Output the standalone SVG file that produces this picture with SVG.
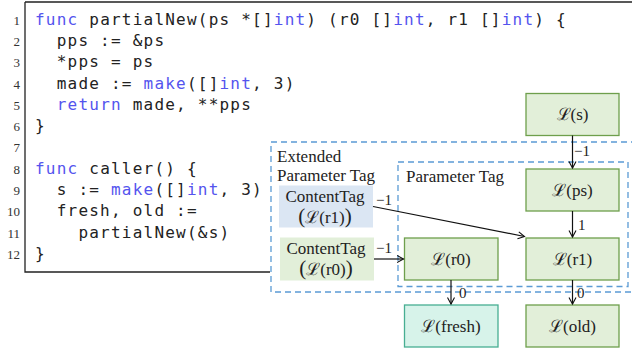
<svg xmlns="http://www.w3.org/2000/svg" width="632" height="353" viewBox="0 0 632 353">
<defs>
<style>
.code{font-family:"DejaVu Sans Mono","Liberation Mono",monospace;font-size:16px;letter-spacing:1.22px;fill:#222;white-space:pre}
.kw{fill:#5454ee}
.ln{font-family:"Liberation Serif","DejaVu Serif",serif;font-size:13px;fill:#333;text-anchor:end}
.lbl{font-family:"Liberation Serif","DejaVu Serif",serif;font-size:17px;fill:#222}
.nl{font-family:"Liberation Serif","DejaVu Serif",serif;font-size:17px;fill:#222;text-anchor:middle}
.el{font-family:"Liberation Serif","DejaVu Serif",serif;font-size:15px;fill:#222}
.g{fill:#e2efd9;stroke:#6e9f4c;stroke-width:1.3}
.t{fill:#d7f3ea;stroke:#47ae92;stroke-width:1.3}
.dash{fill:none;stroke:#5b9bd5;stroke-width:1.3;stroke-dasharray:6 4}
.edge{stroke:#111;stroke-width:1.2;fill:none}
</style>
<marker id="arr" markerUnits="userSpaceOnUse" markerWidth="10" markerHeight="10" refX="7" refY="4" orient="auto">
<path d="M0.5,0.5 L7,4 L0.5,7.5" fill="none" stroke="#111" stroke-width="1.1"/>
</marker>
</defs>
<rect width="632" height="353" fill="#fff"/>
<g id="code">
<path d="M25,2 H632 M25,2 V272 H270" fill="none" stroke="#222" stroke-width="1.3"/>
<text class="ln" x="20" y="24.6">1</text>
<text class="ln" x="20" y="45.9">2</text>
<text class="ln" x="20" y="67.2">3</text>
<text class="ln" x="20" y="88.5">4</text>
<text class="ln" x="20" y="109.8">5</text>
<text class="ln" x="20" y="131.1">6</text>
<text class="ln" x="20" y="152.4">7</text>
<text class="ln" x="20" y="173.7">8</text>
<text class="ln" x="20" y="195">9</text>
<text class="ln" x="20" y="216.3">10</text>
<text class="ln" x="20" y="237.6">11</text>
<text class="ln" x="20" y="258.9">12</text>
<text class="code" x="35" y="24.6"><tspan class="kw">func</tspan> partialNew(ps *[]<tspan class="kw">int</tspan>) (r0 []<tspan class="kw">int</tspan>, r1 []<tspan class="kw">int</tspan>) {</text>
<text class="code" x="35" y="45.9">  pps := &amp;ps</text>
<text class="code" x="35" y="67.2">  *pps = ps</text>
<text class="code" x="35" y="88.5">  made := <tspan class="kw">make</tspan>([]<tspan class="kw">int</tspan>, 3)</text>
<text class="code" x="35" y="109.8">  <tspan class="kw">return</tspan> made, **pps</text>
<text class="code" x="35" y="131.1">}</text>
<text class="code" x="35" y="173.7"><tspan class="kw">func</tspan> caller() {</text>
<text class="code" x="35" y="195">  s := <tspan class="kw">make</tspan>([]<tspan class="kw">int</tspan>, 3)</text>
<text class="code" x="35" y="216.3">  fresh, old :=</text>
<text class="code" x="35" y="237.6">    partialNew(&amp;s)</text>
<text class="code" x="35" y="258.9">}</text>
</g>
<g id="ext-param-tag">
<rect class="dash" x="271" y="142" width="380" height="150"/>
<text class="lbl" x="277" y="162">Extended</text>
<text class="lbl" x="277" y="181">Parameter Tag</text>
</g>
<g id="param-tag">
<rect class="dash" x="398" y="162" width="230" height="124.5"/>
<text class="lbl" x="406" y="182">Parameter Tag</text>
</g>
<g id="content-r1">
<rect x="279" y="185.5" width="94" height="42" fill="#dbe6f3"/>
<text class="nl" x="325" y="202">ContentTag</text>
<text class="nl" x="325" y="223"><tspan font-size="21">(</tspan>ℒ(r1)<tspan font-size="21">)</tspan></text>
</g>
<g id="content-r0">
<rect x="280" y="237.5" width="94" height="43" fill="#e2efd9"/>
<text class="nl" x="326" y="254">ContentTag</text>
<text class="nl" x="326" y="275"><tspan font-size="21">(</tspan>ℒ(r0)<tspan font-size="21">)</tspan></text>
</g>
<g id="node-s">
<rect class="g" x="526" y="93.5" width="93" height="42"/>
<text class="nl" x="572.5" y="120">ℒ(s)</text>
</g>
<g id="node-ps">
<rect class="g" x="526" y="169" width="93" height="42"/>
<text class="nl" x="572.5" y="195.5">ℒ(ps)</text>
</g>
<g id="node-r1">
<rect class="g" x="526" y="238" width="93" height="42"/>
<text class="nl" x="572.5" y="264.5">ℒ(r1)</text>
</g>
<g id="node-r0">
<rect class="g" x="404.5" y="238" width="93.5" height="42"/>
<text class="nl" x="451" y="264.5">ℒ(r0)</text>
</g>
<g id="node-fresh">
<rect class="t" x="404.5" y="305" width="93.5" height="42"/>
<text class="nl" x="451" y="331.5">ℒ(fresh)</text>
</g>
<g id="node-old">
<rect class="g" x="526" y="305" width="93" height="42"/>
<text class="nl" x="572.5" y="331.5">ℒ(old)</text>
</g>
<g id="connectors">
<line class="edge" x1="572.5" y1="135.5" x2="572.5" y2="168" marker-end="url(#arr)"/>
<text class="el" x="574" y="156">−1</text>
<line class="edge" x1="572.5" y1="211" x2="572.5" y2="237" marker-end="url(#arr)"/>
<text class="el" x="578" y="230">1</text>
<line class="edge" x1="373" y1="206.5" x2="524.5" y2="236.5" marker-end="url(#arr)"/>
<text class="el" x="376" y="205">−1</text>
<line class="edge" x1="374" y1="259" x2="403.5" y2="259" marker-end="url(#arr)"/>
<text class="el" x="376" y="253">−1</text>
<line class="edge" x1="451" y1="280" x2="451" y2="304" marker-end="url(#arr)"/>
<text class="el" x="459" y="298">0</text>
<line class="edge" x1="572.5" y1="280" x2="572.5" y2="304" marker-end="url(#arr)"/>
<text class="el" x="577" y="298">0</text>
</g>
</svg>
